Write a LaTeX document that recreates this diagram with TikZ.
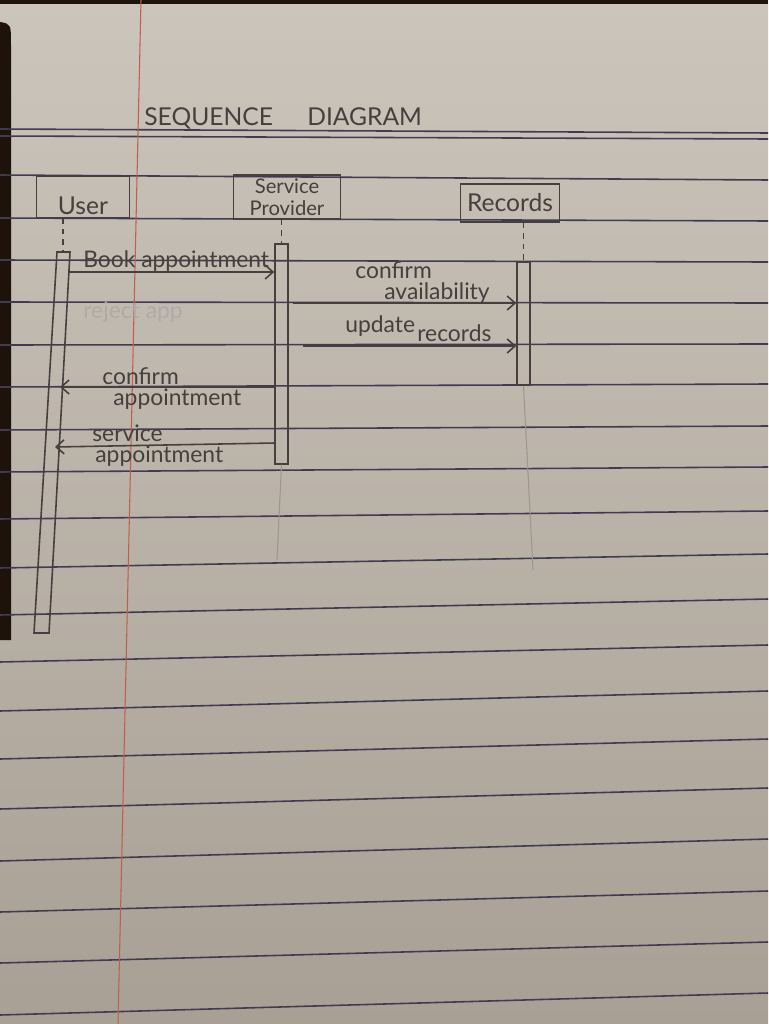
\documentclass[tikz,border=0pt]{standalone}
\usepackage{fontspec}
\setmainfont{Lato}
\usetikzlibrary{arrows.meta}

\definecolor{paper}{RGB}{204,197,187}
\definecolor{paperdark}{RGB}{168,160,149}
\definecolor{pencil}{RGB}{70,63,61}
\definecolor{ruled}{RGB}{66,58,80}
\definecolor{marginred}{RGB}{196,92,78}
\definecolor{erased}{RGB}{176,170,166}

\tikzset{
  ruleline/.style={ruled, line width=0.9pt},
  actor/.style={draw=pencil, line width=0.9pt, text=pencil, font=\fontsize{14}{14}\selectfont, inner sep=0pt},
  actbar/.style={draw=pencil, line width=0.9pt, minimum width=0.26cm, inner sep=0pt},
  life/.style={pencil, line width=0.6pt, dashed},
  faint/.style={pencil!35!paper, line width=0.6pt},
  msg/.style={pencil, line width=0.9pt, -{Straight Barb[length=4.5pt,width=8pt]}},
  lbl/.style={text=pencil, font=\fontsize{13}{13}\selectfont, inner sep=0pt, anchor=base west},
  title/.style={text=pencil, font=\fontsize{14}{14}\selectfont, inner sep=0pt, anchor=base west},
}

\begin{document}
\begin{tikzpicture}[x=0.02cm, y=-0.02cm]
    % Draw the page
    \useasboundingbox (0,0) rectangle (768,1024);
    \shade[top color=paper, bottom color=paperdark] (0,0) rectangle (768,1024);
    \fill[black!85!brown] (0,0) rectangle (768,4);
    \fill[black!85!brown] (0,22) .. controls (11,24) .. (11,45) -- (11,640) -- (0,640) -- cycle;

    % Ruled lines and the margin
    \foreach \yl/\yr in {129/133, 136/139, 175/180, 218/221, 260/262, 302/303,
                         345/344, 387/384, 430/426, 472/467, 519/511, 568/554,
                         615/599, 662/645, 711/691, 759/739, 809/788, 861/839,
                         912/891, 963/942, 1015/993}
        \draw[ruleline] (0,\yl) -- (768,\yr);
    \draw[marginred, line width=0.6pt] (141,0) -- (118,1024);

    % Title
    \node[title] (seq) at (144,126) {SEQUENCE};
    \node[title] (diag) at (307,126) {DIAGRAM};

    % Three boxes at the top
    \node[actor, minimum width=1.86cm, minimum height=0.82cm, text height=20pt, text depth=0pt] (user) at (83,197) {User};
    \node[actor, minimum width=2.14cm, minimum height=0.88cm, align=center,
          font=\fontsize{11.5}{12.5}\selectfont] (provider) at (287,197) {Service\\Provider};
    \node[actor, minimum width=1.98cm, minimum height=0.76cm] (records) at (510,203) {Records};

    % Activation bars
    \coordinate (uact) at (63,252);
    \draw[pencil, line width=0.9pt] (57,252) -- (70,252) -- (49,633) -- (34,633) -- cycle;
    \node[actbar, minimum height=4.4cm] (spact) at (281.5,354) {};
    \node[actbar, minimum height=2.46cm] (recact) at (523.5,323.5) {};

    % Lifelines
    \draw[life] (uact |- user.south) -- (uact);
    \draw[life] (spact.north |- provider.south) -- (spact.north);
    \draw[life] (recact.north |- records.south) -- (recact.north);
    \draw[faint] (spact.south) -- (277,560);
    \draw[faint] (recact.south) -- (533,570);

    % Messages
    \coordinate (book) at (69,272);
    \draw[msg] (book) -- (book -| spact.west);
    \node[lbl] (booklbl) at (83,267) {Book appointment};

    \node[lbl, text=erased] (reject) at (83,318) {reject app};

    \coordinate (avail) at (293,303);
    \draw[msg] (avail) -- (avail -| recact.west);
    \node[lbl] (availa) at (355,278) {confirm};
    \node[lbl] (availb) at (384,299) {availability};

    \coordinate (update) at (303,346);
    \draw[msg] (update) -- (update -| recact.west);
    \node[lbl] (updatea) at (345,332) {update};
    \node[lbl] (updateb) at (417,341) {records};

    \coordinate (confirm) at (60,387);
    \draw[msg] (confirm -| spact.west) -- (confirm);
    \node[lbl] (confirma) at (102,384) {confirm};
    \node[lbl] (confirmb) at (113,405) {appointment};

    \coordinate (servp) at (275,443);
    \coordinate (servu) at (55,447);
    \draw[msg] (servp) -- (servu);
    \node[lbl] (servicea) at (92,441) {service};
    \node[lbl] (serviceb) at (95,462) {appointment};

\end{tikzpicture}
\end{document}
